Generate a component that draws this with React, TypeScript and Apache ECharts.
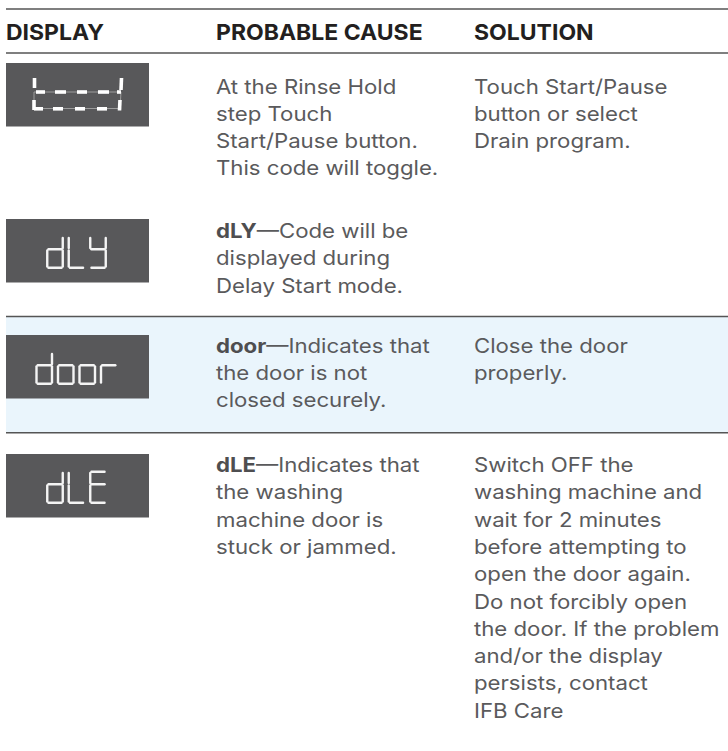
import React, { useEffect, useRef } from "react";
import * as echarts from "echarts";

const headers = ["DISPLAY", "PROBABLE CAUSE", "SOLUTION"];
const displayCodes = ["t---!", "dLY", "door", "dLE"];
const causeBold = ["", "dLY", "door", "dLE"];
const causeLines = [
  ["At the Rinse Hold", "step Touch", "Start/Pause button.", "This code will toggle."],
  ["—Code will be", "displayed during", "Delay Start mode."],
  ["—Indicates that", "the door is not", "closed securely."],
  ["—Indicates that", "the washing", "machine door is", "stuck or jammed."],
];
const solutionLines = [
  ["Touch Start/Pause", "button or select", "Drain program."],
  [],
  ["Close the door", "properly."],
  [
    "Switch OFF the",
    "washing machine and",
    "wait for 2 minutes",
    "before attempting to",
    "open the door again.",
    "Do not forcibly open",
    "the door. If the problem",
    "and/or the display",
    "persists, contact",
    "IFB Care",
  ],
];
const highlightedRow = 2;

// seven-segment map: a b c d e f g
const SEGMENTS: Record<string, string> = {
  d: "bcdeg",
  L: "def",
  Y: "bcdfg",
  o: "cdeg",
  r: "eg",
  E: "adefg",
};

const FONT = "Inter, 'Noto Sans', sans-serif";
const TEXT_COLOR = "#5a5a5c";
const HEAD_COLOR = "#231f20";
const BOX_COLOR = "#58585a";
const LINE_COLOR = "#555555";
const BODY_SCALE = 1.11;
const HEAD_SCALE = 1.045;

const colX = [6, 216, 474];
const boxTop = [63, 219, 335, 454];
const textTop = [86.5, 231, 345.5, 465];
const LINE_H = 27.3;

function segLines(ch: string, x: number, y: number, w: number, h: number, m: number) {
  const segs = SEGMENTS[ch] || "";
  const g = 1.2;
  const pts: Record<string, number[]> = {
    a: [x + g, y, x + w - g, y],
    b: [x + w, y + g, x + w, y + m - g],
    c: [x + w, y + m + g, x + w, y + h - g],
    d: [x + g, y + h, x + w - g, y + h],
    e: [x, y + m + g, x, y + h - g],
    f: [x, y + g, x, y + m - g],
    g: [x + g, y + m, x + w - g, y + m],
  };
  return segs.split("").map((s) => {
    const p = pts[s];
    return {
      type: "line",
      shape: { x1: p[0], y1: p[1], x2: p[2], y2: p[3] },
      style: { stroke: "#f4f4f4", lineWidth: 2.4, lineCap: "round" },
      silent: true,
    };
  });
}

function toggleDisplay(top: number) {
  const els: any[] = [];
  const thin = { stroke: "#9c9c9c", lineWidth: 1 };
  const thick = { stroke: "#ffffff", lineWidth: 3.6, lineCap: "butt" };
  const ln = (x1: number, y1: number, x2: number, y2: number, style: any) =>
    els.push({ type: "line", shape: { x1, y1, x2, y2 }, style, silent: true });
  const o = top - 63;
  ln(34, 92 + o, 121, 92 + o, thin);
  ln(34, 108.5 + o, 120, 108.5 + o, thin);
  ln(34, 92 + o, 34, 108.5 + o, thin);
  ln(121, 92 + o, 120, 108.5 + o, thin);
  ln(34.5, 78 + o, 34.5, 88 + o, thick);
  ln(121.5, 78 + o, 121, 90 + o, thick);
  [[36, 45], [55, 66], [77, 87], [98, 109], [117, 121]].forEach(([a, b]) => ln(a, 92 + o, b, 92 + o, thick));
  ln(34, 100 + o, 34, 110 + o, thick);
  ln(34, 108.8 + o, 43, 108.8 + o, thick);
  [[53, 63], [75, 85], [97, 107]].forEach(([a, b]) => ln(a, 108.8 + o, b, 108.8 + o, thick));
  ln(120, 100 + o, 119.5, 110.5 + o, thick);
  return els;
}

function bodyText(x: number, y: number, style: any) {
  return { type: "text", x, y, scaleX: BODY_SCALE, style, silent: true };
}

function buildGraphic() {
  const els: any[] = [];
  const bandTop = boxTop[highlightedRow] - 18;
  els.push({
    type: "rect",
    shape: { x: 6, y: bandTop, width: 722, height: 115 },
    style: { fill: "#eaf5fc" },
    silent: true,
  });
  [9, 53, bandTop - 0.5, bandTop + 115.8].forEach((y) =>
    els.push({
      type: "line",
      shape: { x1: 6, y1: y, x2: 728, y2: y },
      style: { stroke: LINE_COLOR, lineWidth: 1.4 },
      silent: true,
    })
  );
  headers.forEach((h, i) =>
    els.push({
      type: "text",
      x: colX[i],
      y: 31.5,
      scaleX: HEAD_SCALE,
      style: {
        text: h,
        fill: HEAD_COLOR,
        font: `700 22px ${FONT}`,
        verticalAlign: "middle",
        align: "left",
      },
      silent: true,
    })
  );
  displayCodes.forEach((code, r) => {
    const bt = boxTop[r];
    els.push({
      type: "rect",
      shape: { x: 6, y: bt, width: 143, height: 63.5 },
      style: { fill: BOX_COLOR },
      silent: true,
    });
    if (r === 0) {
      els.push(...toggleDisplay(bt));
    } else {
      const w = 15.5;
      const gap = 6;
      const total = code.length * w + (code.length - 1) * gap;
      const sx = 76.5 - total / 2;
      code.split("").forEach((ch, k) => {
        els.push(...segLines(ch, sx + k * (w + gap), bt + 17.7, w, 31, 12.5));
      });
    }
    causeLines[r].forEach((line, k) => {
      const bold = k === 0 && causeBold[r];
      els.push(
        bodyText(
          colX[1],
          textTop[r] + k * LINE_H,
          bold
            ? {
                text: `{b|${causeBold[r]}}{n|${line}}`,
                rich: {
                  b: { font: `700 20px ${FONT}`, fill: "#4e4e50" },
                  n: { font: `400 20px ${FONT}`, fill: TEXT_COLOR },
                },
                verticalAlign: "middle",
                align: "left",
              }
            : {
                text: line,
                fill: TEXT_COLOR,
                font: `400 20px ${FONT}`,
                verticalAlign: "middle",
                align: "left",
              }
        )
      );
    });
    solutionLines[r].forEach((line, k) =>
      els.push(
        bodyText(colX[2], textTop[r] + k * LINE_H, {
          text: line,
          fill: TEXT_COLOR,
          font: `400 20px ${FONT}`,
          verticalAlign: "middle",
          align: "left",
        })
      )
    );
  });
  return els;
}

export default function App() {
  const ref = useRef<HTMLDivElement>(null);
  useEffect(() => {
    if (!ref.current) return;
    const chart = echarts.init(ref.current, undefined, { renderer: "svg" });
    chart.setOption({
      animation: false,
      backgroundColor: "#ffffff",
      graphic: { elements: buildGraphic() },
    });
    return () => chart.dispose();
  }, []);
  return (
    <div
      ref={ref}
      style={{ position: "fixed", left: 0, top: 0, width: 728, height: 751, background: "#fff" }}
    />
  );
}
